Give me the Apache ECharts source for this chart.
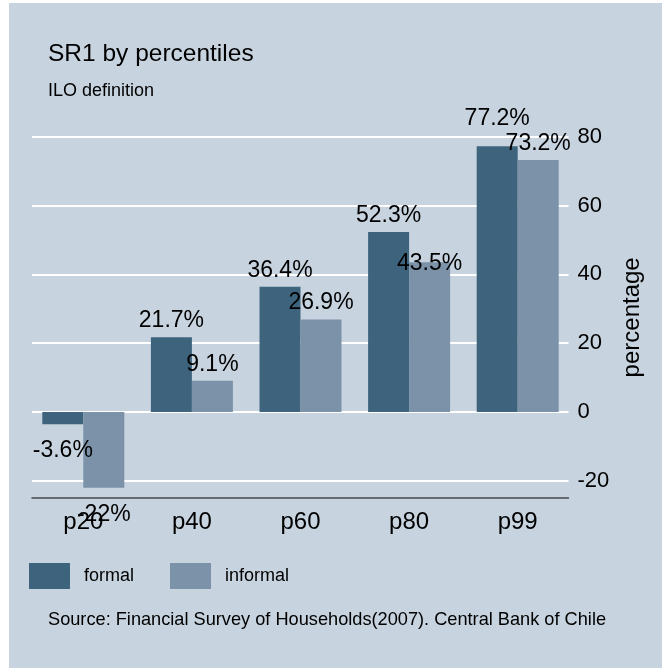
<!DOCTYPE html>
<html>
<head>
<meta charset="utf-8">
<script src="https://cdn.jsdelivr.net/npm/echarts@6/dist/echarts.min.js"></script>
<style>
html,body{margin:0;padding:0;background:#ffffff;}
#wrap{position:relative;width:662px;height:668px;overflow:hidden;}
#bg{position:absolute;left:9px;top:3px;width:653px;height:665px;background:#c7d3df;}
#chart{position:absolute;left:0;top:0;width:662px;height:668px;}
</style>
</head>
<body>
<div id="wrap"><div id="bg"></div><div id="chart"></div></div>
<script>
const categories = ['p20', 'p40', 'p60', 'p80', 'p99'];
const formal = [-3.6, 21.7, 36.4, 52.3, 77.2];
const informal = [-22, 9.1, 26.9, 43.5, 73.2];
const yTicks = [-20, 0, 20, 40, 60, 80];
const seriesNames = ['formal', 'informal'];
const titleText = 'SR1 by percentiles';
const subtitleText = 'ILO definition';
const sourceText = 'Source: Financial Survey of Households(2007). Central Bank of Chile';
const yName = 'percentage';

const FONT = '"Liberation Sans", Arial, sans-serif';
const colors = ['#3e647d', '#7b92a9'];
const yMin = -25, yMax = 80;
// label placement tweaks (style only), per series / per category index
const labelNudge = [[0, 0, 0, 0, -11], [0, 0, 0, 18, 0]];

function makeData(vals, nudge) {
  return vals.map((v, i) => ({
    value: v,
    label: v < 0
      ? { position: 'bottom', distance: 15, offset: [0, nudge[i]] }
      : { position: 'top', distance: 5, offset: [0, nudge[i]] }
  }));
}

const chart = echarts.init(document.getElementById('chart'), null, { renderer: 'canvas' });
const gridTop = 136.7, gridBottom = 170;

chart.setOption({
  animation: false,
  backgroundColor: 'transparent',
  textStyle: { fontFamily: FONT },
  title: [
    { text: titleText, left: 48, top: 42, padding: 0,
      textStyle: { fontFamily: FONT, fontSize: 24.5, fontWeight: 'normal', color: '#000' } },
    { text: subtitleText, left: 48, top: 82, padding: 0,
      textStyle: { fontFamily: FONT, fontSize: 18, fontWeight: 'normal', color: '#000' } },
    { text: sourceText, left: 48, top: 611, padding: 0,
      textStyle: { fontFamily: FONT, fontSize: 18.2, fontWeight: 'normal', color: '#000' } }
  ],
  legend: {
    data: seriesNames,
    left: 29, top: 563, padding: 0,
    itemWidth: 41, itemHeight: 26, itemGap: 36,
    icon: 'rect',
    textStyle: { fontFamily: FONT, fontSize: 18, color: '#000', padding: [0, 0, 0, 9] }
  },
  grid: [
    { left: 29, right: 90, top: gridTop, bottom: gridBottom },
    { left: 32, right: 93.5, top: gridTop, bottom: gridBottom }
  ],
  xAxis: [
    { type: 'category', gridIndex: 0, data: categories,
      axisLine: { show: false }, axisTick: { show: false }, splitLine: { show: false },
      axisLabel: { fontFamily: FONT, fontSize: 24, color: '#000', margin: 12 } },
    { type: 'value', gridIndex: 1, min: 0, max: 1,
      axisLine: { show: true, onZero: false, lineStyle: { color: '#4a4a4a', width: 1.5 } },
      axisTick: { show: false }, axisLabel: { show: false }, splitLine: { show: false } }
  ],
  yAxis: [
    { type: 'value', gridIndex: 0, min: yMin, max: yMax, show: false, splitLine: { show: false } },
    { type: 'value', gridIndex: 1, min: yMin, max: yMax, position: 'right',
      axisLine: { show: false },
      axisTick: { show: false, customValues: yTicks },
      axisLabel: { customValues: yTicks, fontFamily: FONT, fontSize: 22, color: '#000', margin: 9 },
      splitLine: { show: true, lineStyle: { color: '#ffffff', width: 2 } },
      name: yName, nameLocation: 'middle', nameRotate: 90, nameGap: 52,
      nameTextStyle: { fontFamily: FONT, fontSize: 24, color: '#000' } }
  ],
  series: [
    { name: seriesNames[0], type: 'bar', xAxisIndex: 0, yAxisIndex: 0,
      data: makeData(formal, labelNudge[0]), barWidth: 41, barGap: '0%',
      itemStyle: { color: colors[0] },
      label: { show: true, formatter: p => p.value + '%', fontFamily: FONT, fontSize: 23, color: '#000' } },
    { name: seriesNames[1], type: 'bar', xAxisIndex: 0, yAxisIndex: 0,
      data: makeData(informal, labelNudge[1]), barWidth: 41, barGap: '0%',
      itemStyle: { color: colors[1] },
      label: { show: true, formatter: p => p.value + '%', fontFamily: FONT, fontSize: 23, color: '#000' } }
  ]
});
</script>
</body>
</html>
